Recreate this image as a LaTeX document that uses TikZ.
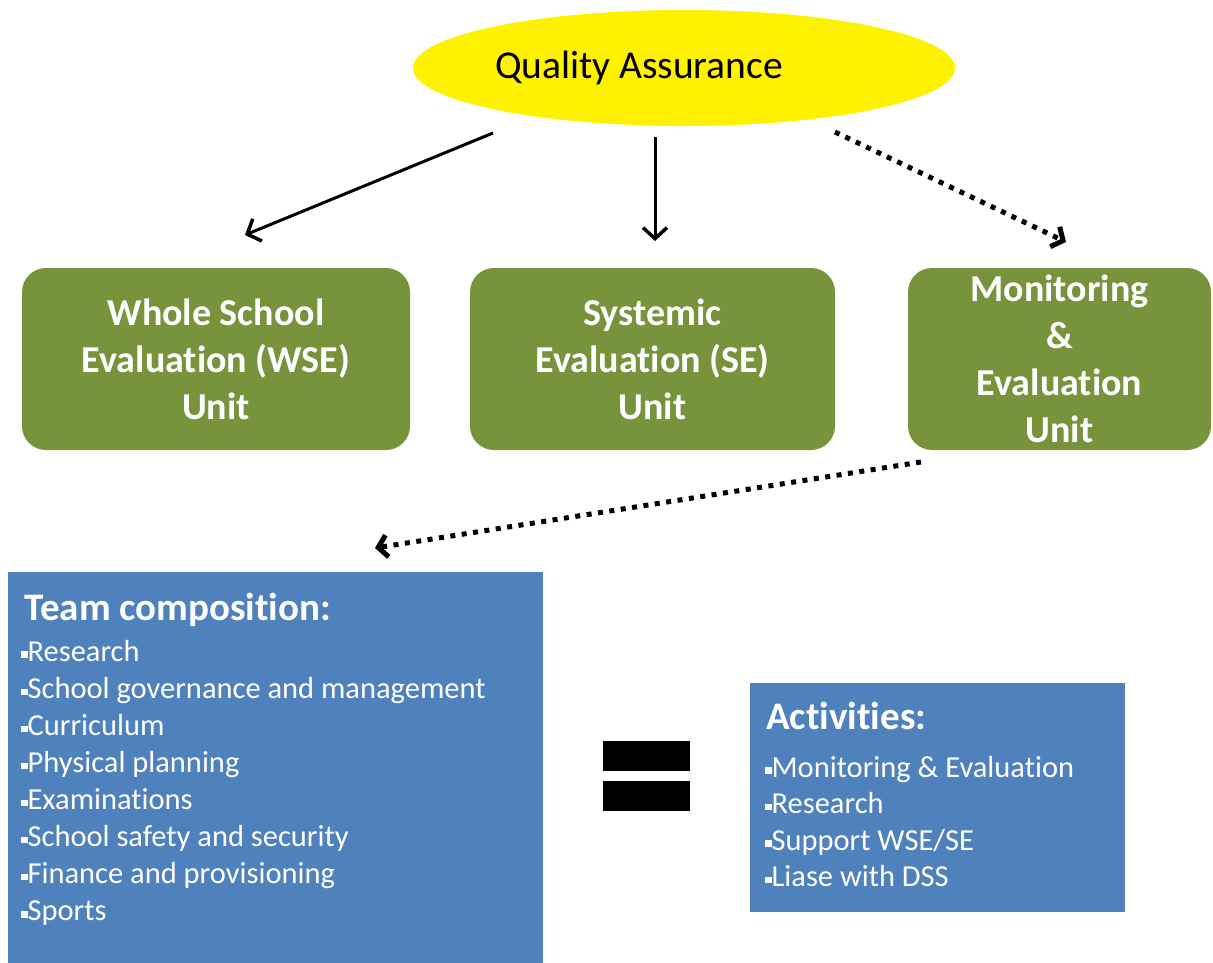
\documentclass[tikz,border=0pt]{standalone}
\usepackage{fontspec}
\setmainfont{Carlito}[RawFeature={-liga;-clig;-calt;-dlig}]
\usetikzlibrary{arrows.meta,shapes.geometric}
\definecolor{qagreen}{RGB}{119,147,60}
\definecolor{qablue}{RGB}{79,129,189}
\newcommand{\bsq}{\raisebox{0.22ex}{\rule{0.21em}{0.21em}}}
\tikzset{
  unitbox/.style={fill=qagreen, rounded corners=24pt, align=center, text=white,
    font=\bfseries\fontsize{38}{47}\selectfont, minimum height=182pt, inner sep=0pt},
  bluebox/.style={fill=qablue, anchor=north west, inner sep=0pt},
  bhead/.style={anchor=base west, text=white, font=\bfseries\fontsize{39}{40}\selectfont, inner sep=0pt},
  bitem/.style={anchor=base west, text=white, font=\fontsize{30.5}{32}\selectfont, inner sep=0pt},
  solidarrow/.style={line width=3pt, -{Straight Barb[length=11pt,width=24pt,line width=3.5pt]}},
  dotarrow/.style={line width=5pt, dash pattern=on 5pt off 6.5pt, -{Straight Barb[length=9pt,width=22pt,line width=5pt]}},
  eqbar/.style={fill=black, minimum width=87pt, minimum height=30pt, inner sep=0pt}
}
\begin{document}
\begin{tikzpicture}[x=1pt,y=-1pt]
\useasboundingbox (0,0) rectangle (1213,962);
% top ellipse
\node[ellipse, fill=yellow, minimum width=542pt, minimum height=116pt, inner sep=0pt] (qa) at (684,68) {};
\node[font=\fontsize{39.5}{42}\selectfont, inner sep=0pt] (qat) at (639,68) {Quality Assurance};
% units
\node[unitbox, minimum width=388pt] (wse) at (216,359) {Whole School\\Evaluation (WSE)\\Unit};
\node[unitbox, minimum width=365pt] (se) at (652.5,359) {Systemic\\Evaluation (SE)\\Unit};
\node[unitbox, minimum width=303pt] (me) at (1059.5,359) {Monitoring\\\&\\Evaluation\\Unit};
% arrows
\coordinate (a1s) at (493,133); \coordinate (a1e) at (245,235);
\coordinate (a2s) at (655,137); \coordinate (a2e) at (655,241);
\coordinate (a3s) at (835,132); \coordinate (a3e) at (1066,242);
\coordinate (a4s) at (921,462); \coordinate (a4e) at (375,548);
\draw[solidarrow] (a1s) -- (a1e);
\draw[solidarrow] (a2s) -- (a2e);
\draw[dotarrow] (a3s) -- (a3e);
\draw[dotarrow] (a4s) -- (a4e);
% team box
\node[bluebox, minimum width=535pt, minimum height=392pt] (team) at (8,572) {};
\node[bhead] (teamh) at (24,620) {Team composition:};
\foreach \t [count=\i from 0] in {Research,School governance and management,Curriculum,Physical planning,Examinations,School safety and security,Finance and provisioning,Sports}
  \node[bitem] (tl\i) at (21,{661+37.1*\i}) {\bsq\t};
% equals
\node[eqbar] (eq1) at (646.5,756) {};
\node[eqbar] (eq2) at (646.5,795.5) {};
% activities box
\node[bluebox, minimum width=375pt, minimum height=229pt] (act) at (750,683) {};
\node[bhead] (acth) at (766,729) {Activities:};
\foreach \t [count=\i from 0] in {Monitoring \& Evaluation,Research,Support WSE/SE,Liase with DSS}
  \node[bitem] (al\i) at (765,{777+36.5*\i}) {\bsq\t};
\end{tikzpicture}
\end{document}
